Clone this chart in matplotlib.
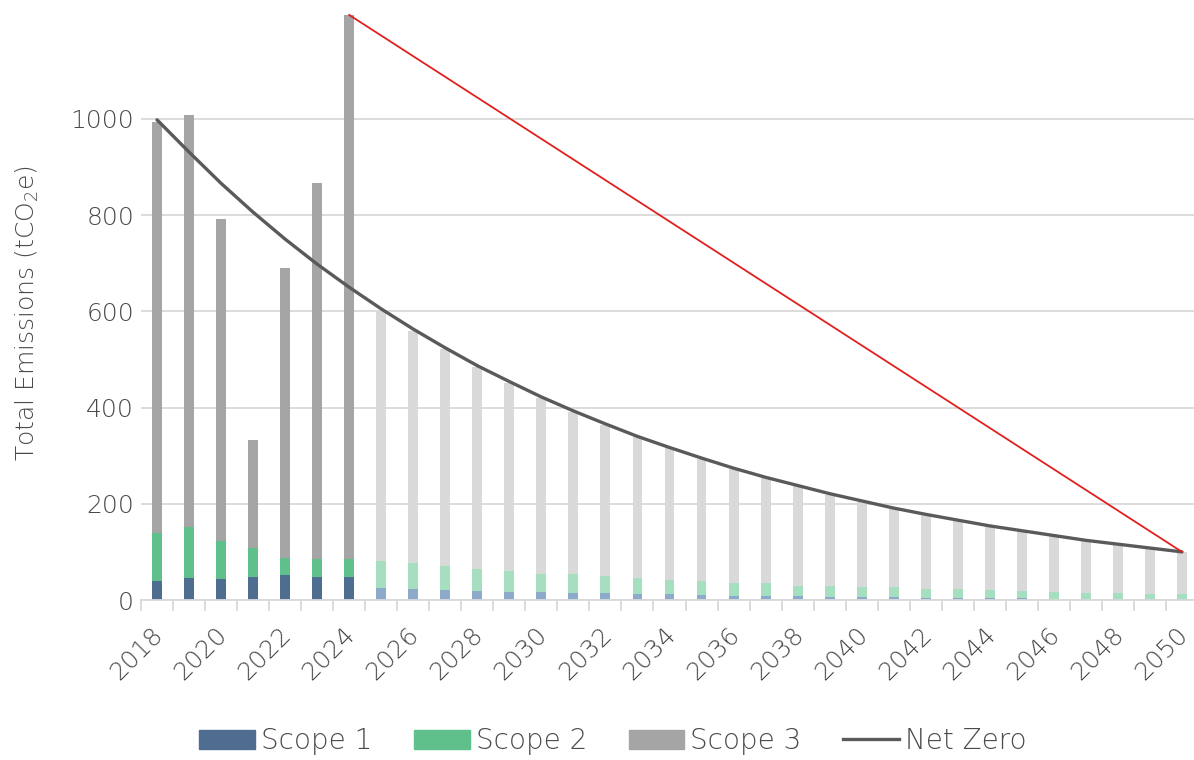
import matplotlib
matplotlib.use("Agg")
import matplotlib.pyplot as plt
import matplotlib.transforms as mtransforms
import numpy as np
from matplotlib.patches import Patch
from matplotlib.lines import Line2D

years = list(range(2018, 2051))
scope1 = [39, 46, 43, 48, 51, 47, 47,
          25, 22, 20, 19, 17, 16, 15, 14, 12, 12, 10, 9, 8,
          9, 7, 6, 7, 4, 5, 4, 4, 3, 3, 2, 2, 1.5]
scope2 = [101, 106, 80, 60, 36, 39, 39,
          57, 54, 51, 46, 43, 39, 38, 35, 33, 30, 30, 27, 27,
          21, 22, 22, 19, 19, 17, 16, 15, 14, 12, 13, 11, 11.5]
totals = [994, 1007, 791, 333, 690, 866, 1216,
          600, 560, 521, 484, 450, 419, 390, 363, 338, 315, 293, 273, 254,
          236, 219, 204, 190, 177, 165, 153, 143, 133, 124, 115, 107, 99]
net_zero = [998, 931, 866, 806, 750, 698, 650, 605, 563, 524, 487, 454, 422,
            393, 366, 340, 317, 295, 274, 255, 238, 221, 206, 191, 178, 166,
            154, 144, 134, 124, 116, 108, 100]
linear_start = (2024, 1216)
linear_end = (2050, 100)
n_actual = 7

scope3 = [t - a - b for t, a, b in zip(totals, scope1, scope2)]

c1 = ["#4e6d91"] * n_actual + ["#8eaacb"] * (len(years) - n_actual)
c2 = ["#5fc08c"] * n_actual + ["#a6dfc0"] * (len(years) - n_actual)
c3 = ["#a5a5a5"] * n_actual + ["#d9d9d9"] * (len(years) - n_actual)

plt.rcParams['font.family'] = ['DejaVu Sans']
plt.rcParams['font.weight'] = 'light'
plt.rcParams['axes.labelweight'] = 'light'
plt.rcParams['mathtext.default'] = 'regular'
plt.rcParams['mathtext.fontset'] = 'custom'
plt.rcParams['mathtext.rm'] = 'DejaVu Sans:light'
txt = "#4a4a4a"

fig = plt.figure(figsize=(11.94, 7.60), dpi=100)
ax = fig.add_axes([141/1194, 160/760, 1057/1194, (600-13)/760])

x = np.arange(len(years))
w = 0.31
s1 = np.array(scope1); s2 = np.array(scope2); s3 = np.array(scope3)
ax.bar(x, s1, w, color=c1, zorder=2)
ax.bar(x, s2, w, bottom=s1, color=c2, zorder=2)
ax.bar(x, s3, w, bottom=s1 + s2, color=c3, zorder=2)
ax.plot(x, net_zero, color="#5a5a5a", lw=2.4, zorder=3, solid_capstyle='round')
ax.plot([linear_start[0] - 2018, linear_end[0] - 2018],
        [linear_start[1], linear_end[1]], color="#e0201e", lw=1.3, zorder=4)

ax.set_xlim(-0.5, len(years) - 0.5)
ax.set_ylim(0, 1220)
ax.set_yticks([0, 200, 400, 600, 800, 1000])
ax.set_yticklabels(["0", "200", "400", "600", "800", "1000"], fontsize=18, color=txt)
ax.grid(axis='y', color="#d9d9d9", lw=1.3, zorder=0)
ax.set_axisbelow(True)
for s in ['top', 'right', 'left']:
    ax.spines[s].set_visible(False)
ax.spines['bottom'].set_color("#d9d9d9")
ax.spines['bottom'].set_linewidth(1.3)
ax.tick_params(axis='y', length=0, pad=5)

ax.set_xticks(x[::2])
ax.set_xticklabels([str(y) for y in years[::2]], rotation=45, ha='right',
                   rotation_mode='anchor', fontsize=18, color=txt)
ax.tick_params(axis='x', length=0, pad=16)
off = mtransforms.ScaledTranslation(-6/100, 0, fig.dpi_scale_trans)
for lab in ax.get_xticklabels():
    lab.set_transform(lab.get_transform() + off)
ax.set_xticks(np.arange(-0.5, len(years), 1), minor=True)
ax.tick_params(axis='x', which='minor', length=8, color="#d9d9d9", width=1.3)

ax.set_ylabel(r"Total Emissions (tCO$_2$e)", fontsize=18, color=txt)
ax.yaxis.set_label_coords(-(141-41)/1057, (600-313)/587)

handles = [Patch(color="#4e6d91"), Patch(color="#5fc08c"), Patch(color="#a5a5a5"),
           Line2D([0], [0], color="#5a5a5a", lw=2.4)]
labels = ["Scope 1", "Scope 2", "Scope 3", "Net Zero"]
leg = fig.legend(handles, labels, loc='center', bbox_to_anchor=(613/1194, 1 - 741/760),
                 ncol=4, frameon=False, fontsize=20, handlelength=2.0, handleheight=0.67,
                 handletextpad=0.22, columnspacing=1.5, labelcolor=txt)

fig.savefig("out.png", dpi=100, facecolor="white")
